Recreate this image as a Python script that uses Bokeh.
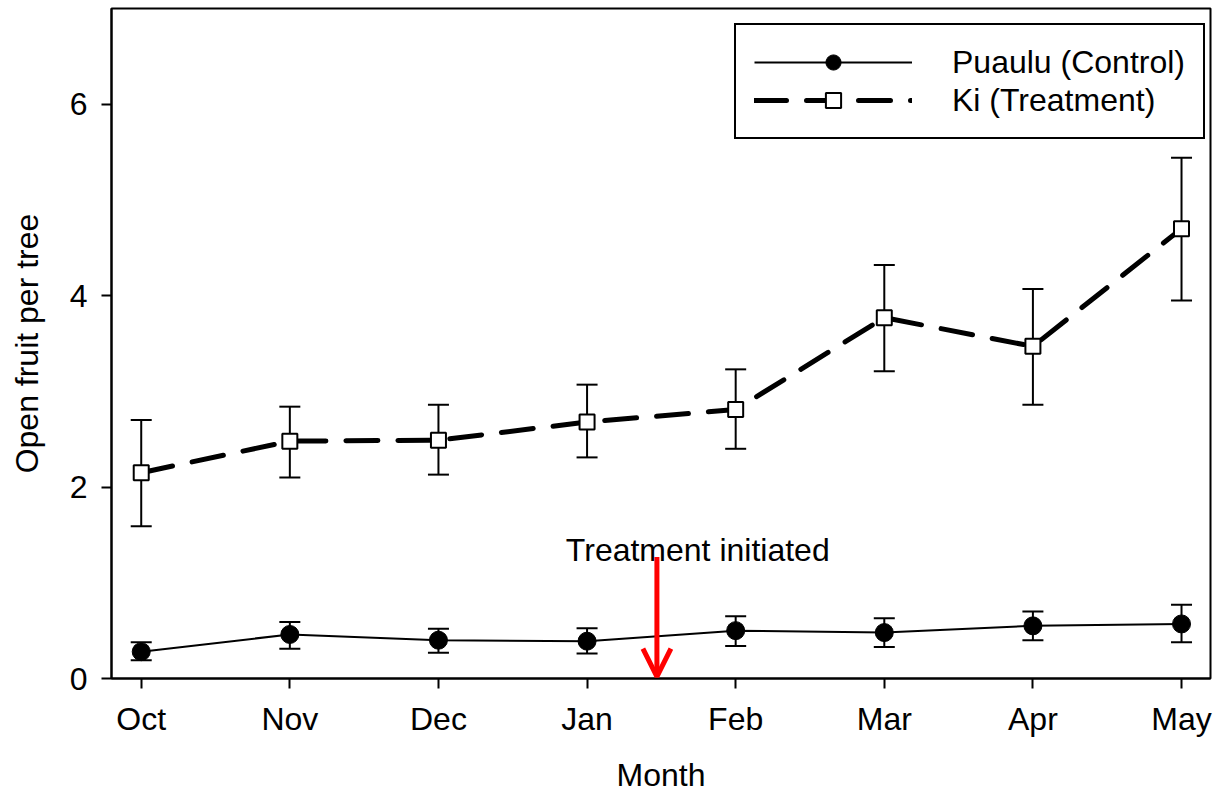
from bokeh.plotting import figure
from bokeh.models import (ColumnDataSource, Whisker, TeeHead, Arrow, OpenHead,
                          Legend, LegendItem, FixedTicker, Range1d)
from bokeh.core.properties import value
from bokeh.embed import file_html
from bokeh.resources import INLINE

months = ["Oct", "Nov", "Dec", "Jan", "Feb", "Mar", "Apr", "May"]

control_mean = [0.28, 0.46, 0.40, 0.39, 0.50, 0.48, 0.55, 0.57]
control_upper = [0.38, 0.59, 0.52, 0.525, 0.65, 0.63, 0.70, 0.77]
control_lower = [0.19, 0.31, 0.27, 0.26, 0.34, 0.33, 0.40, 0.38]

treat_mean = [2.15, 2.48, 2.49, 2.68, 2.81, 3.77, 3.47, 4.70]
treat_upper = [2.70, 2.84, 2.86, 3.07, 3.23, 4.32, 4.07, 5.44]
treat_lower = [1.59, 2.10, 2.13, 2.31, 2.40, 3.21, 2.86, 3.95]

y_ticks = [0, 2, 4, 6]
arrow_x = 3.47
arrow_top = 1.27
arrow_bottom = 0.02
note_text = "Treatment initiated"
note_x = 3.745
note_y = 1.34

FONT = "Liberation Sans"
FS = "32px"

x = list(range(len(months)))
src_c = ColumnDataSource(dict(x=x, y=control_mean, up=control_upper, lo=control_lower))
src_t = ColumnDataSource(dict(x=x, y=treat_mean, up=treat_upper, lo=treat_lower))

p = figure(width=1222, height=795, output_backend="svg", toolbar_location=None,
           x_range=Range1d(-0.2, 7.195), y_range=Range1d(0, 7.0),
           min_border_left=111, min_border_right=12, min_border_top=8,
           min_border_bottom=117)

p.xgrid.visible = False
p.ygrid.visible = False
p.outline_line_color = "black"
p.outline_line_width = 2
p.outline_line_alpha = 1.0
p.background_fill_color = "white"
p.border_fill_color = "white"

for ax in (p.xaxis[0], p.yaxis[0]):
    ax.axis_line_width = 2
    ax.major_tick_line_width = 2
    ax.major_tick_out = 10
    ax.major_tick_in = 0
    ax.minor_tick_line_color = None
    ax.major_label_text_font = FONT
    ax.major_label_text_font_size = FS
    ax.major_label_text_color = "black"
    ax.axis_label_text_font = FONT
    ax.axis_label_text_font_size = FS
    ax.axis_label_text_font_style = "normal"
    ax.axis_label_text_color = "black"

p.xaxis.ticker = FixedTicker(ticks=x)
p.xaxis.major_label_overrides = {i: m for i, m in enumerate(months)}
p.xaxis.axis_label = "Month"
p.xaxis.major_label_standoff = 12
p.xaxis.axis_label_standoff = 17

p.yaxis.ticker = FixedTicker(ticks=y_ticks)
p.yaxis.axis_label = "Open fruit per tree"
p.yaxis.major_label_standoff = 14
p.yaxis.axis_label_standoff = 22

# error bars
for src in (src_c, src_t):
    w = Whisker(source=src, base="x", upper="up", lower="lo", dimension="height",
                line_color="black", line_width=2,
                upper_head=TeeHead(size=21, line_width=2, line_color="black"),
                lower_head=TeeHead(size=21, line_width=2, line_color="black"))
    p.add_layout(w)

lc = p.line("x", "y", source=src_c, line_color="black", line_width=2)
mc = p.scatter("x", "y", source=src_c, marker="circle", size=18,
               fill_color="black", line_color="black")

lt = p.line("x", "y", source=src_t, line_color="black", line_width=5,
            line_dash="32 20", line_cap="round")
mt = p.scatter("x", "y", source=src_t, marker="square", size=15,
               fill_color="white", line_color="black", line_width=2)

# annotation
p.add_layout(Arrow(x_start=arrow_x, y_start=arrow_top, x_end=arrow_x, y_end=arrow_bottom,
                   line_color="red", line_width=5,
                   end=OpenHead(size=28, line_color="red", line_width=5)))
p.text(x=[note_x], y=[note_y], text=[note_text], text_font=value(FONT),
       text_font_size=FS, text_align="center", text_baseline="alphabetic",
       text_color="black")

legend = Legend(items=[LegendItem(label="Puaulu (Control)", renderers=[lc, mc]),
                       LegendItem(label="Ki (Treatment)", renderers=[lt, mt])],
                location=(623, 539), orientation="vertical",
                glyph_width=158, glyph_height=38, label_height=30,
                label_standoff=40, spacing=0, padding=18, margin=0,
                label_text_font=FONT, label_text_font_size=FS,
                label_text_color="black",
                border_line_color="black", border_line_width=2,
                border_line_alpha=1.0,
                background_fill_alpha=1.0, background_fill_color="white")
p.add_layout(legend, "center")

open("out.html", "w").write(file_html(p, INLINE))
